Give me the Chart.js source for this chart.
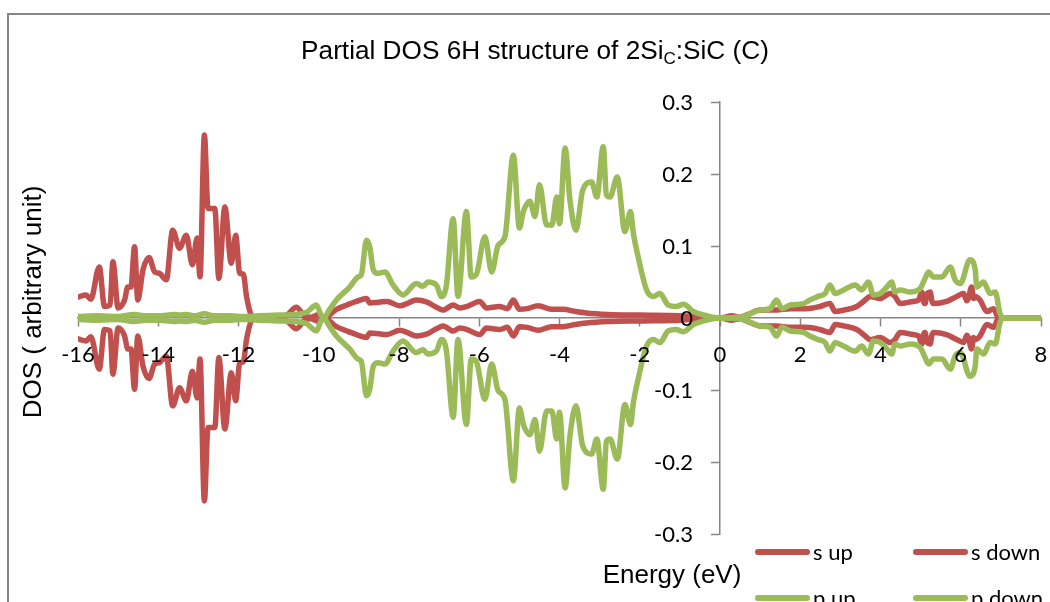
<!DOCTYPE html>
<html>
<head>
<meta charset="utf-8">
<title>Partial DOS 6H structure of 2SiC:SiC (C)</title>
<script src="https://cdn.jsdelivr.net/npm/chart.js@4"></script>
<style>
  html, body { margin: 0; padding: 0; background: #fff; width: 1050px; height: 602px; overflow: hidden; }
  #wrap { position: absolute; left: 0; top: 0; width: 1100px; height: 640px; }
  canvas { display: block; }
</style>
</head>
<body>
<div id="wrap"><canvas id="dos" width="1100" height="640"></canvas></div>
<script>
// Energy grid (eV) and s-orbital partial DOS, spin up / spin down
const energyS = [
  -16.0, -15.8, -15.68, -15.47, -15.34, -15.2, -15.13, -15.0, -14.84, -14.76,
  -14.68, -14.59, -14.51, -14.38, -14.23, -14.09, -13.97, -13.8, -13.64, -13.47,
  -13.3, -13.15, -13.03, -12.96, -12.85, -12.76, -12.59, -12.49, -12.34, -12.18,
  -12.07, -11.97, -11.88, -11.8, -11.68, -11.55, -11.2, -10.8, -10.56, -10.35,
  -10.2, -10.0, -9.87, -9.56, -9.3, -9.06, -8.81, -8.73, -8.5, -8.3,
  -7.98, -7.8, -7.57, -7.3, -7.07, -6.9, -6.65, -6.48, -6.3, -5.99,
  -5.82, -5.5, -5.3, -5.15, -5.0, -4.8, -4.53, -4.2, -3.91, -3.6,
  -3.33, -2.8, -2.0, -1.0, -0.4, 0.0, 0.3, 0.5, 0.7, 1.0,
  1.41, 1.75, 2.16, 2.49, 2.74, 2.87, 3.08, 3.41, 3.62, 3.74,
  3.99, 4.24, 4.36, 4.49, 4.82, 4.95, 5.03, 5.08, 5.11, 5.16,
  5.24, 5.28, 5.32, 5.65, 5.9, 6.07, 6.15, 6.19, 6.27, 6.32,
  6.36, 6.48, 6.65, 6.82, 6.94, 7.2, 8.0
];
const sUp = [
  0.029, 0.032, 0.026, 0.071, 0.016, 0.018, 0.078, 0.014, 0.025, 0.043,
  0.043, 0.099, 0.025, 0.067, 0.084, 0.064, 0.062, 0.053, 0.122, 0.097,
  0.115, 0.074, 0.111, 0.057, 0.254, 0.152, 0.152, 0.055, 0.154, 0.076,
  0.115, 0.062, 0.061, 0.030, 0.004, 0.000, 0.001, 0.004, 0.015, 0.003,
  0.001, 0.005, 0.000, 0.012, 0.018, 0.023, 0.027, 0.021, 0.022, 0.023,
  0.017, 0.020, 0.025, 0.022, 0.015, 0.011, 0.018, 0.014, 0.016, 0.023,
  0.014, 0.016, 0.013, 0.025, 0.012, 0.013, 0.017, 0.012, 0.012, 0.009,
  0.007, 0.005, 0.004, 0.003, 0.001, 0.000, 0.003, 0.001, 0.005, 0.011,
  0.011, 0.013, 0.013, 0.016, 0.020, 0.009, 0.011, 0.016, 0.025, 0.030,
  0.027, 0.034, 0.030, 0.020, 0.023, 0.025, 0.036, 0.022, 0.020, 0.034,
  0.036, 0.024, 0.020, 0.023, 0.030, 0.034, 0.024, 0.027, 0.043, 0.027,
  0.030, 0.025, 0.009, 0.013, 0.000, 0.000, 0.000
];
const sDown = [
  -0.029, -0.032, -0.026, -0.071, -0.016, -0.018, -0.078, -0.014, -0.025, -0.043,
  -0.043, -0.099, -0.025, -0.067, -0.084, -0.064, -0.062, -0.053, -0.122, -0.097,
  -0.115, -0.074, -0.111, -0.057, -0.254, -0.152, -0.152, -0.055, -0.154, -0.076,
  -0.115, -0.062, -0.061, -0.030, -0.004, -0.000, -0.001, -0.004, -0.015, -0.003,
  -0.001, -0.005, -0.000, -0.012, -0.018, -0.023, -0.027, -0.021, -0.022, -0.023,
  -0.017, -0.020, -0.025, -0.022, -0.015, -0.011, -0.018, -0.014, -0.016, -0.023,
  -0.014, -0.016, -0.013, -0.025, -0.012, -0.013, -0.017, -0.012, -0.012, -0.009,
  -0.007, -0.005, -0.004, -0.003, -0.001, -0.000, -0.003, -0.001, -0.005, -0.011,
  -0.011, -0.013, -0.013, -0.016, -0.020, -0.009, -0.011, -0.016, -0.025, -0.030,
  -0.027, -0.034, -0.030, -0.020, -0.023, -0.025, -0.036, -0.022, -0.020, -0.034,
  -0.036, -0.024, -0.020, -0.023, -0.030, -0.034, -0.024, -0.027, -0.043, -0.027,
  -0.030, -0.025, -0.009, -0.013, -0.000, -0.000, -0.000
];

// Energy grid (eV) and p-orbital partial DOS, spin up / spin down
const energyP = [
  -16.0, -15.5, -15.0, -14.6, -14.3, -14.0, -13.6, -13.45, -13.3, -13.1,
  -12.85, -12.6, -12.2, -11.9, -11.5, -11.0, -10.6, -10.3, -10.06, -9.95,
  -9.87, -9.75, -9.56, -9.23, -9.02, -8.94, -8.81, -8.73, -8.64, -8.52,
  -8.35, -8.15, -7.9, -7.57, -7.4, -7.28, -7.07, -6.94, -6.82, -6.65,
  -6.53, -6.32, -6.2, -6.07, -5.86, -5.69, -5.53, -5.36, -5.15, -5.0,
  -4.9, -4.74, -4.61, -4.5, -4.32, -4.19, -4.07, -4.0, -3.86, -3.74,
  -3.59, -3.42, -3.2, -3.07, -2.91, -2.83, -2.74, -2.56, -2.37, -2.23,
  -2.16, -2.04, -1.83, -1.66, -1.5, -1.29, -1.1, -0.91, -0.66, -0.25,
  0.0, 0.5, 1.0, 1.25, 1.41, 1.54, 1.75, 2.08, 2.24, 2.45,
  2.62, 2.74, 2.87, 3.08, 3.37, 3.53, 3.7, 3.82, 3.99, 4.16,
  4.28, 4.36, 4.49, 4.74, 4.99, 5.11, 5.2, 5.32, 5.53, 5.74,
  5.86, 5.99, 6.23, 6.36, 6.4, 6.57, 6.73, 6.86, 6.98, 7.07,
  8.0
];
const pUp = [
  0.002, 0.003, 0.002, 0.005, 0.003, 0.003, 0.005, 0.004, 0.005, 0.003,
  0.006, 0.003, 0.003, 0.002, 0.003, 0.004, 0.005, 0.008, 0.018, 0.005,
  0.000, 0.010, 0.025, 0.043, 0.057, 0.060, 0.108, 0.099, 0.067, 0.062,
  0.064, 0.046, 0.032, 0.048, 0.044, 0.050, 0.046, 0.030, 0.045, 0.138,
  0.030, 0.148, 0.057, 0.061, 0.113, 0.064, 0.101, 0.113, 0.226, 0.125,
  0.148, 0.162, 0.141, 0.185, 0.129, 0.129, 0.168, 0.131, 0.236, 0.164,
  0.122, 0.178, 0.189, 0.168, 0.238, 0.171, 0.168, 0.196, 0.120, 0.148,
  0.118, 0.085, 0.039, 0.030, 0.034, 0.018, 0.016, 0.019, 0.009, 0.002,
  0.000, 0.001, 0.011, 0.013, 0.025, 0.013, 0.018, 0.020, 0.025, 0.030,
  0.034, 0.046, 0.034, 0.039, 0.046, 0.039, 0.050, 0.032, 0.034, 0.043,
  0.050, 0.036, 0.039, 0.036, 0.041, 0.055, 0.064, 0.057, 0.057, 0.071,
  0.053, 0.048, 0.081, 0.067, 0.043, 0.050, 0.034, 0.036, 0.006, 0.000,
  0.000
];
const pDown = [
  -0.002, -0.003, -0.002, -0.005, -0.003, -0.003, -0.005, -0.004, -0.005, -0.003,
  -0.006, -0.003, -0.003, -0.002, -0.003, -0.004, -0.005, -0.008, -0.018, -0.005,
  -0.000, -0.010, -0.025, -0.043, -0.057, -0.060, -0.108, -0.099, -0.067, -0.062,
  -0.064, -0.046, -0.032, -0.048, -0.044, -0.050, -0.046, -0.030, -0.045, -0.138,
  -0.030, -0.148, -0.057, -0.061, -0.113, -0.064, -0.101, -0.113, -0.226, -0.125,
  -0.148, -0.162, -0.141, -0.185, -0.129, -0.129, -0.168, -0.131, -0.236, -0.164,
  -0.122, -0.178, -0.189, -0.168, -0.238, -0.171, -0.168, -0.196, -0.120, -0.148,
  -0.118, -0.085, -0.039, -0.030, -0.034, -0.018, -0.016, -0.019, -0.009, -0.002,
  -0.000, -0.001, -0.011, -0.013, -0.025, -0.013, -0.018, -0.020, -0.025, -0.030,
  -0.034, -0.046, -0.034, -0.039, -0.046, -0.039, -0.050, -0.032, -0.034, -0.043,
  -0.050, -0.036, -0.039, -0.036, -0.041, -0.055, -0.064, -0.057, -0.057, -0.071,
  -0.053, -0.048, -0.081, -0.067, -0.043, -0.050, -0.034, -0.036, -0.006, -0.000,
  -0.000
];

const seriesNames = ['s up', 's down', 'p up', 'p down'];
const titleParts = ['Partial DOS 6H structure of 2Si', 'C', ':SiC (C)'];
const xAxisTitle = 'Energy (eV)';
const yAxisTitle = 'DOS ( arbitrary unit)';

const RED = '#C0504D';
const GREEN = '#9BBB59';
const AXIS = '#868686';
const SANS = '"Liberation Sans", Arial, sans-serif';
const TICKFONT = 'Lato, "Open Sans", sans-serif';

const toPoints = (xs, ys) => xs.map((x, i) => ({ x: x, y: ys[i] }));
const yLabel = v => (Math.abs(v) < 1e-9 ? '0' : v.toFixed(1));
const xLabel = v => String(Math.round(v));

function lineSet(label, xs, ys, color, order) {
  return {
    label: label,
    data: toPoints(xs, ys),
    borderColor: color,
    backgroundColor: color,
    borderWidth: 5.5,
    pointRadius: 0,
    fill: false,
    cubicInterpolationMode: 'monotone',
    borderJoinStyle: 'round',
    borderCapStyle: 'round',
    order: order
  };
}

// Outer frame, axis labels, titles and the two-column legend
const decorations = {
  id: 'decorations',
  beforeDraw(chart) {
    const ctx = chart.ctx;
    ctx.save();
    ctx.fillStyle = '#fff';
    ctx.fillRect(0, 0, chart.width, chart.height);
    ctx.strokeStyle = AXIS;
    ctx.lineWidth = 2;
    ctx.strokeRect(8, 14, chart.width + 20, chart.height + 20);
    ctx.restore();
  },
  afterDatasetsDraw(chart) {
    // tick labels of both crossing axes, written over the curves
    const ctx = chart.ctx;
    const xs = chart.scales.x, ys = chart.scales.y;
    const x0 = xs.getPixelForValue(0), y0 = ys.getPixelForValue(0);
    ctx.save();
    ctx.fillStyle = '#000';
    ctx.font = '22px ' + TICKFONT;
    ctx.textBaseline = 'middle';
    ctx.textAlign = 'right';
    ys.ticks.forEach(t => {
      ctx.fillText(yLabel(t.value), x0 - 27, ys.getPixelForValue(t.value) + 1);
    });
    ctx.textAlign = 'center';
    xs.ticks.forEach(t => {
      ctx.fillText(xLabel(t.value), xs.getPixelForValue(t.value), y0 + 37);
    });
    ctx.restore();
  },
  afterDraw(chart) {
    const ctx = chart.ctx;
    ctx.save();
    ctx.fillStyle = '#000';
    ctx.textBaseline = 'alphabetic';
    ctx.textAlign = 'left';

    // chart title with subscript
    const big = '26.2px ' + SANS, small = '17px ' + SANS;
    ctx.font = big;
    const w0 = ctx.measureText(titleParts[0]).width;
    const w2 = ctx.measureText(titleParts[2]).width;
    ctx.font = small;
    const w1 = ctx.measureText(titleParts[1]).width;
    let tx = 535 - (w0 + w1 + w2) / 2;
    const ty = 59;
    ctx.font = big;
    ctx.fillText(titleParts[0], tx, ty); tx += w0;
    ctx.font = small;
    ctx.fillText(titleParts[1], tx, ty + 5); tx += w1;
    ctx.font = big;
    ctx.fillText(titleParts[2], tx, ty);

    // axis titles
    ctx.font = '26px ' + SANS;
    ctx.textAlign = 'center';
    ctx.fillText(xAxisTitle, 672, 583);
    ctx.save();
    ctx.translate(41, 302);
    ctx.rotate(-Math.PI / 2);
    ctx.fillText(yAxisTitle, 0, 0);
    ctx.restore();

    // legend
    const cols = [755, 913];
    const rows = [552, 598];
    ctx.font = '22px ' + TICKFONT;
    ctx.textAlign = 'left';
    chart.data.datasets.forEach((ds, i) => {
      const x = cols[i % 2], y = rows[Math.floor(i / 2)];
      ctx.strokeStyle = ds.borderColor;
      ctx.lineWidth = 6;
      ctx.lineCap = 'round';
      ctx.beginPath();
      ctx.moveTo(x + 3, y);
      ctx.lineTo(x + 52, y);
      ctx.stroke();
      ctx.fillStyle = '#000';
      ctx.fillText(ds.label, x + 58, y + 7.5);
    });
    ctx.restore();
  }
};

const axisStyle = {
  grid: { display: true, drawOnChartArea: false, drawTicks: true, tickLength: 8, tickColor: AXIS, tickWidth: 1.5 },
  border: { display: true, color: AXIS, width: 1.5 }
};

new Chart(document.getElementById('dos'), {
  type: 'line',
  data: {
    datasets: [
      lineSet(seriesNames[0], energyS, sUp, RED, 4),
      lineSet(seriesNames[1], energyS, sDown, RED, 3),
      lineSet(seriesNames[2], energyP, pUp, GREEN, 2),
      lineSet(seriesNames[3], energyP, pDown, GREEN, 1)
    ]
  },
  options: {
    responsive: false,
    animation: false,
    devicePixelRatio: 1,
    layout: { padding: { left: 78, right: 59, top: 102, bottom: 106 } },
    plugins: { legend: { display: false }, title: { display: false }, tooltip: { enabled: false } },
    scales: {
      x: Object.assign({
        type: 'linear', min: -16, max: 8, position: { y: 0 },
        ticks: { stepSize: 2, autoSkip: false, maxRotation: 0, color: 'rgba(0,0,0,0)',
                 font: { family: TICKFONT, size: 22 }, callback: xLabel }
      }, axisStyle),
      y: Object.assign({
        type: 'linear', min: -0.3, max: 0.3, position: { x: 0 },
        ticks: { stepSize: 0.1, color: 'rgba(0,0,0,0)',
                 font: { family: TICKFONT, size: 22 }, callback: yLabel }
      }, axisStyle)
    }
  },
  plugins: [decorations]
});
</script>
</body>
</html>
